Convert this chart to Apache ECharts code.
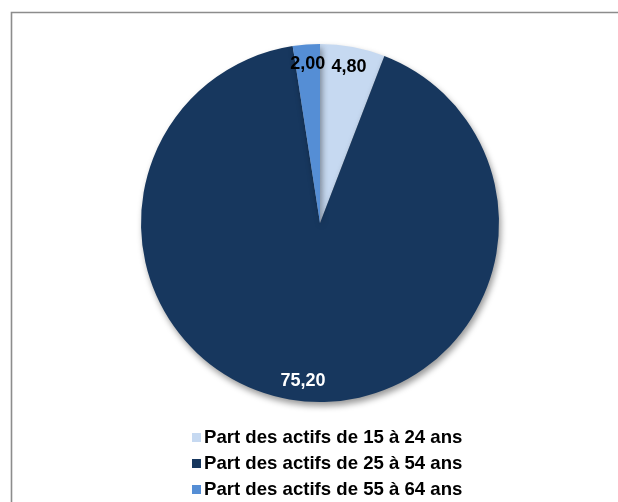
<!DOCTYPE html>
<html>
<head>
<meta charset="utf-8">
<script src="https://cdn.jsdelivr.net/npm/echarts@6/dist/echarts.min.js"></script>
<style>
  html, body { margin: 0; padding: 0; background: #fff; }
  #chart { width: 618px; height: 502px; }
</style>
</head>
<body>
<div id="chart"></div>
<script>
const categories = [
  'Part des actifs de 15 à 24 ans',
  'Part des actifs de 25 à 54 ans',
  'Part des actifs de 55 à 64 ans'
]
const values = [4.80, 75.20, 2.00]
const colors = ['#c6d9f1', '#17375e', '#558ed5']
const labelColors = ['#000000', '#ffffff', '#000000']

const font = '"Liberation Sans", Arial, sans-serif'

function formatValue(value) {
  return Number(value).toFixed(2).replace('.', ',')
}

const pieData = categories.map((name, i) => ({
  name,
  value: values[i],
  itemStyle: { color: colors[i] }
}))

const labelData = categories.map((name, i) => ({
  name,
  value: values[i],
  label: { color: labelColors[i] }
}))

const chart = echarts.init(document.getElementById('chart'))

const option = {
  animation: false,
  backgroundColor: '#ffffff',
  graphic: [
    {
      type: 'rect',
      silent: true,
      shape: { x: 11.5, y: 12.5, width: 640, height: 520 },
      style: { fill: 'none', stroke: '#8c8c8c', lineWidth: 1.6 }
    }
  ],
  legend: {
    orient: 'vertical',
    left: 192,
    top: 428,
    height: 74,
    padding: 0,
    itemWidth: 9,
    itemHeight: 9,
    itemGap: 7,
    icon: 'rect',
    selectedMode: false,
    data: categories,
    textStyle: {
      fontFamily: font,
      fontSize: 18.6,
      fontWeight: 'bold',
      color: '#000',
      lineHeight: 18,
      padding: [0, 0, 0, -2]
    }
  },
  series: [
    {
      name: 'parts',
      type: 'pie',
      center: [320, 223],
      radius: [0, 179],
      startAngle: 90,
      clockwise: true,
      silent: true,
      label: { show: false },
      labelLine: { show: false },
      emphasis: { disabled: true },
      itemStyle: {
        borderWidth: 0,
        shadowBlur: 6,
        shadowOffsetX: 2,
        shadowOffsetY: 4,
        shadowColor: 'rgba(0,0,0,0.4)'
      },
      data: pieData
    },
    {
      name: 'labels',
      type: 'pie',
      center: [320, 223],
      radius: [133, 179],
      startAngle: 90,
      clockwise: true,
      silent: true,
      legendHoverLink: false,
      emphasis: { disabled: true },
      itemStyle: { color: 'rgba(0,0,0,0)', borderWidth: 0 },
      labelLine: { show: false },
      label: {
        show: true,
        position: 'inside',
        fontFamily: font,
        fontSize: 18,
        fontWeight: 'bold',
        formatter(params) {
          return formatValue(params.value)
        }
      },
      data: labelData
    }
  ]
}

chart.setOption(option)
</script>
</body>
</html>
